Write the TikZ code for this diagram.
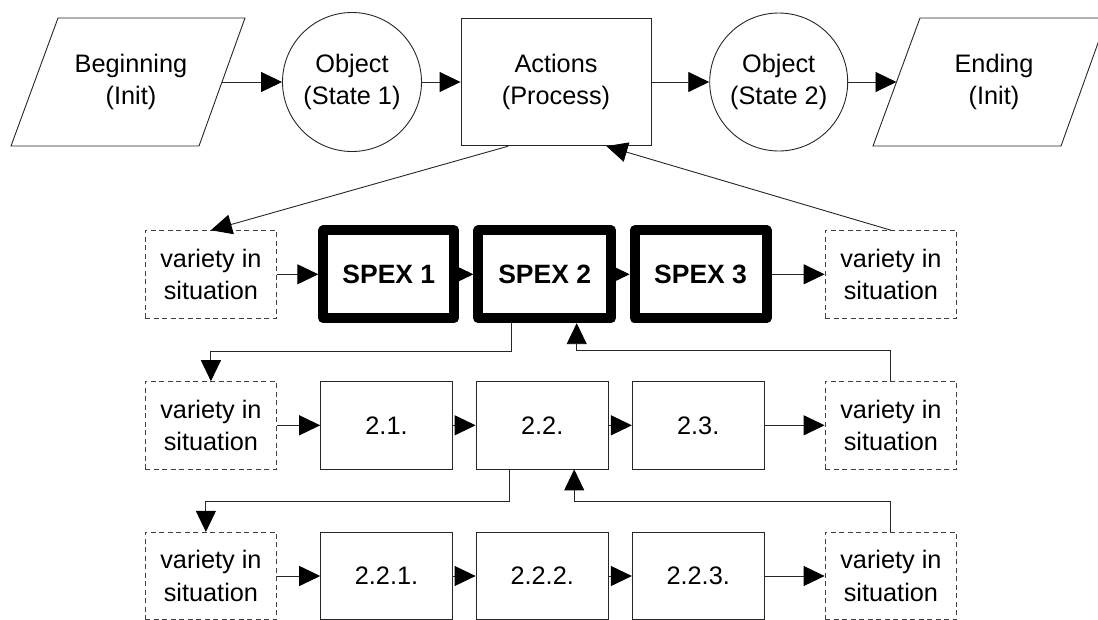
\documentclass[tikz,border=0pt]{standalone}
\usepackage{fontspec}
\setmainfont{Liberation Sans}
\usetikzlibrary{arrows.meta,calc}
\begin{document}
\begin{tikzpicture}[x=1pt,y=-1pt,
  ln/.style={line width=0.9pt, draw=black!85},
  arr/.style={ln, -{Triangle[length=21pt,width=20pt,black]}},
  txt/.style={font=\fontsize{25.3}{32.5}\selectfont, align=center, inner sep=0pt},
  box/.style={ln, txt, minimum width=131.7pt, minimum height=87.3pt, fill=white},
  vbox/.style={box, draw=black!75, dash pattern=on 5pt off 3.5pt},
  spex/.style={box, line width=10pt, draw=black, line join=round,
    font=\fontsize{26.5}{30}\selectfont\bfseries, minimum width=131pt, minimum height=87.7pt},
  circ/.style={ln, txt, circle, minimum size=139pt},
]
\useasboundingbox (0,0) rectangle (1098,619);

% top row
\draw[ln] (11,146) -- (58,18) -- (245,18) -- (199,146) -- cycle;
\node[txt] (beg) at (131,82) {Beginning\\(Init)};
\coordinate (begE) at (222,82);
\node[circ] (c1) at (352,82) {Object\\(State 1)};
\node[ln, txt, minimum width=190pt, minimum height=127.4pt] (act) at (556,82) {Actions\\(Process)};
\node[circ, minimum size=138pt] (c2) at (778.7,82) {Object\\(State 2)};
\draw[ln] (873,146) -- (920,18) -- (1107,18) -- (1061,146) -- cycle;
\node[txt] (end) at (994,82) {Ending\\(Init)};
\coordinate (endW) at (896.5,82);

% row 2
\node[vbox] (v1) at (210.9,274.3) {variety in\\situation};
\node[spex] (s1) at (388.8,274.3) {SPEX 1};
\node[spex, minimum width=132.7pt] (s2) at (544.7,274.3) {SPEX 2};
\node[spex, minimum width=132pt] (s3) at (700.6,274.3) {SPEX 3};
\node[vbox] (v2) at (890.9,274.3) {variety in\\situation};

% row 3
\node[vbox] (v3) at (210.9,425.3) {variety in\\situation};
\node[box] (b21) at (386.5,425.3) {2.1.};
\node[box, minimum width=132.3pt] (b22) at (542.2,425.3) {2.2.};
\node[box] (b23) at (698.2,425.3) {2.3.};
\node[vbox] (v4) at (890.9,425.3) {variety in\\situation};

% row 4
\node[vbox] (v5) at (210.9,576) {variety in\\situation};
\node[box] (b221) at (386.5,576) {2.2.1.};
\node[box, minimum width=132.3pt] (b222) at (542.2,576) {2.2.2.};
\node[box] (b223) at (698.2,576) {2.2.3.};
\node[vbox] (v6) at (890.9,576) {variety in\\situation};

% top connectors
\draw[arr] (begE) -- (c1.west);
\draw[arr] (c1.east) -- (act.west);
\draw[arr] (act.east) -- (c2.west);
\draw[arr] (c2.east) -- (endW);
\draw[arr] ($(act.south west)!0.25!(act.south east)$) -- (v1.north);
\draw[arr] (v2.north) -- ($(act.south west)!0.764!(act.south east)$);

% row 2 connectors
\draw[arr] (v1.east) -- (s1.west);
\draw[arr] (s1.east) -- (s2.west);
\draw[arr] (s2.east) -- (s3.west);
\draw[arr] (s3.east) -- (v2.west);
\draw[arr] ([xshift=-33pt]s2.south) -- ++(0,28) -| (v3.north);
\draw[arr] (v4.north) -- ++(0,-31) -| ([xshift=32pt]s2.south);

% row 3 connectors
\draw[arr] (v3.east) -- (b21.west);
\draw[arr] (b21.east) -- (b22.west);
\draw[arr] (b22.east) -- (b23.west);
\draw[arr] (b23.east) -- (v4.west);
\draw[arr] ([xshift=-33pt]b22.south) -- ++(0,32.5) -| ([xshift=-5pt]v5.north);
\draw[arr] (v6.north) -- ++(0,-30.5) -| ([xshift=32pt]b22.south);

% row 4 connectors
\draw[arr] (v5.east) -- (b221.west);
\draw[arr] (b221.east) -- (b222.west);
\draw[arr] (b222.east) -- (b223.west);
\draw[arr] (b223.east) -- (v6.west);
\end{tikzpicture}
\end{document}
